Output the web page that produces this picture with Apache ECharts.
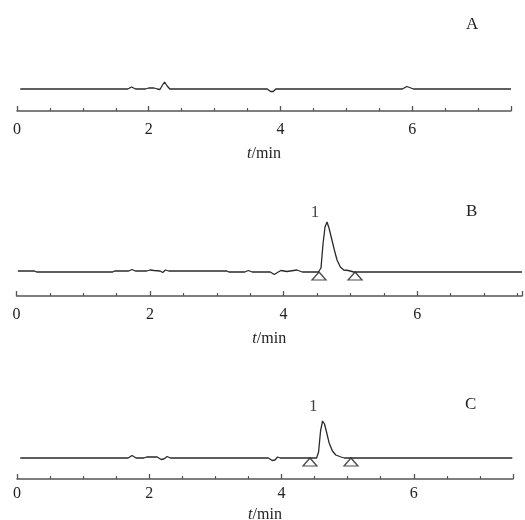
<!DOCTYPE html>
<html>
<head>
<meta charset="utf-8">
<script src="https://cdn.jsdelivr.net/npm/echarts@6/dist/echarts.min.js"></script>
<style>
  html, body { margin: 0; padding: 0; background: #fff; }
  #chart { width: 525px; height: 520px; }
</style>
</head>
<body>
<div id="chart"></div>
<script>
  // retention time (min) / detector response (arbitrary units)
  var sigA = [[0.05,0],[1.68,0],[1.74,2],[1.8,0],[1.95,0],[2.0,1],[2.08,1],[2.13,0],[2.17,-0.5],[2.21,4],[2.24,7],[2.28,3],[2.32,0],
    [3.8,0],[3.85,-2.5],[3.89,-2.5],[3.93,0],[3.96,1],[4.0,0],[5.85,0],[5.92,2.5],[5.98,1],[6.02,0],[7.5,0]]
  var sigB = [[0.02,1],[0.27,1],[0.3,0],[1.44,0],[1.47,1],[1.68,1],[1.73,2.5],[1.78,1],[1.95,1],[2.0,2],[2.06,1.5],[2.15,1],
    [2.19,-0.5],[2.23,2],[2.28,1],[3.15,1],[3.18,0],[3.42,0],[3.47,1.5],[3.53,0],[3.8,0],[3.86,-2.5],[3.92,0],[3.96,1.5],
    [4.05,0.5],[4.1,1],[4.2,2],[4.28,0],[4.52,0],[4.56,4],[4.59,28],[4.62,45],[4.65,50],[4.68,44],[4.72,33],[4.76,22],
    [4.8,12],[4.85,5],[4.9,2],[4.97,1.5],[5.05,0],[7.57,0]]
  var sigC = [[0.05,0],[1.68,0],[1.74,2.5],[1.8,0],[1.92,0],[1.96,1],[2.12,1],[2.18,-1.5],[2.22,-1],[2.27,1.5],[2.32,0],
    [3.8,0],[3.86,-2.5],[3.9,-2],[3.94,1],[3.98,0],[4.53,0],[4.56,6],[4.59,27],[4.62,37],[4.65,34],[4.68,26],[4.72,15],
    [4.77,7],[4.82,3],[4.9,1],[4.95,0],[6.7,0],[6.73,-0.5],[6.76,0],[7.49,0]]
  // integration start/end markers
  var marksB = [[4.53,-4],[5.07,-4]]
  var marksC = [[4.43,-4],[5.05,-4]]
  // peak number labels
  var peakB = [[4.47,59,'1']]
  var peakC = [[4.48,51,'1']]
  var panelNames = ['A','B','C']
  var tickLabels = [0,2,4,6]

  var chart = echarts.init(document.getElementById('chart'))
  var serif = 'Liberation Serif'
  var ink = '#2a2a2a'

  function xAxisFor(idx, max, margin, gap) {
    return {
      type: 'value', gridIndex: idx, min: 0, max: max, interval: 2,
      name: '{i|t}/min', nameLocation: 'middle', nameGap: gap,
      nameTextStyle: { fontFamily: serif, fontSize: 16, color: '#222',
        rich: { i: { fontFamily: serif, fontSize: 16, fontStyle: 'italic', color: '#222' } } },
      axisLine: { onZero: false, lineStyle: { color: '#555', width: 1.5 } },
      axisTick: { show: true, inside: true, length: 5, lineStyle: { color: '#555', width: 1.3 } },
      minorTick: { show: true, splitNumber: 4, length: 3, lineStyle: { color: '#555', width: 1.2 } },
      splitLine: { show: false },
      axisLabel: {
        margin: margin, fontFamily: serif, fontSize: 16, color: '#222',
        formatter: function (v) { return tickLabels.indexOf(v) >= 0 ? String(v) : '' }
      }
    }
  }
  function yAxisFor(idx, min, max) {
    return { type: 'value', gridIndex: idx, min: min, max: max, show: false,
      splitLine: { show: false } }
  }
  function trace(idx, data) {
    return { type: 'line', xAxisIndex: idx, yAxisIndex: idx, data: data, showSymbol: false,
      silent: true, lineStyle: { color: ink, width: 1.3 }, z: 2 }
  }
  function markers(idx, data) {
    return { type: 'scatter', xAxisIndex: idx, yAxisIndex: idx, data: data, symbol: 'triangle',
      symbolSize: [14, 8], silent: true, z: 3,
      itemStyle: { color: '#fff', borderColor: '#222', borderWidth: 1.3 } }
  }
  function peakLabel(idx, data) {
    return { type: 'scatter', xAxisIndex: idx, yAxisIndex: idx, data: data, symbolSize: 1, silent: true,
      itemStyle: { color: 'rgba(0,0,0,0)' },
      label: { show: true, position: 'inside', formatter: function (p) { return p.value[2] },
        fontFamily: serif, fontSize: 17, color: '#111' } }
  }

  chart.setOption({
    animation: false,
    backgroundColor: '#fff',
    grid: [
      { left: 17, right: 14, top: 20, bottom: 409, outerBoundsMode: 'none' },
      { left: 16.5, right: 3, top: 196, bottom: 224, outerBoundsMode: 'none' },
      { left: 17, right: 12, top: 379, bottom: 41, outerBoundsMode: 'none' }
    ],
    xAxis: [xAxisFor(0, 7.5, 11, 35), xAxisFor(1, 7.57, 11, 35), xAxisFor(2, 7.5, 7, 28)],
    yAxis: [yAxisFor(0, -22, 69), yAxisFor(1, -24, 76), yAxisFor(2, -21, 79)],
    graphic: [
      { type: 'text', left: 466, top: 16, style: { text: panelNames[0], font: '17px ' + serif, fill: '#222' } },
      { type: 'text', left: 466, top: 203, style: { text: panelNames[1], font: '17px ' + serif, fill: '#222' } },
      { type: 'text', left: 465, top: 396, style: { text: panelNames[2], font: '17px ' + serif, fill: '#222' } }
    ],
    series: [
      trace(0, sigA),
      trace(1, sigB), markers(1, marksB), peakLabel(1, peakB),
      trace(2, sigC), markers(2, marksC), peakLabel(2, peakC)
    ]
  })
</script>
</body>
</html>
